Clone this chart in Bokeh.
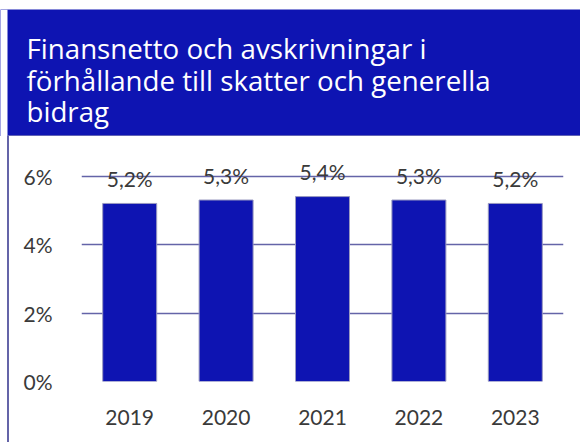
from bokeh.plotting import figure
from bokeh.models import (ColumnDataSource, FactorRange, FixedTicker, Label,
                          LabelSet, Spacer, BoxAnnotation, CustomJSTickFormatter)
from bokeh.core.properties import value
from bokeh.layouts import column
from bokeh.embed import file_html
from bokeh.resources import INLINE

# ---- data ----
years = ["2019", "2020", "2021", "2022", "2023"]
values = [5.2, 5.3, 5.4, 5.3, 5.2]
value_labels = ["5,2%", "5,3%", "5,4%", "5,3%", "5,2%"]
y_ticks = [0, 2, 4, 6]
title_lines = ["Finansnetto och avskrivningar i",
               "förhållande till skatter och generella",
               "bidrag"]

BLUE = "#0E14B2"
GRID = "#6464A8"
TEXT = "#3A3A3A"
FONT = "Lato"
FS = "21px"
W = 580

# ---- title band (page y 9..136) ----
TH = 127
top = figure(width=W, height=TH, x_range=(0, W), y_range=(136, 9),
             output_backend="svg", toolbar_location=None,
             min_border=0, outline_line_color=None,
             background_fill_color=BLUE, border_fill_color=BLUE)
top.axis.visible = False
top.grid.visible = False
top.add_layout(BoxAnnotation(left=0, right=7, fill_color="white",
                             fill_alpha=1, line_color=None))
top.add_layout(BoxAnnotation(left=7, right=W, top=134.8, bottom=136,
                             fill_color="#7E7EB6", fill_alpha=1,
                             line_color=None))
baselines = [47, 79, 110]
for line, b in zip(title_lines, baselines):
    top.add_layout(Label(x=26, y=b, text=line, text_color="white",
                         text_font="Open Sans",
                         text_font_size="27.7px", text_baseline="alphabetic"))

# ---- chart (canvas starts at page x 9) ----
CW = 571
CH = 442 - 9 - TH
src = ColumnDataSource(dict(year=years, value=values, label=value_labels))
p = figure(width=CW, height=CH, x_range=FactorRange(*years, range_padding=0),
           y_range=(0, 6.6), output_backend="svg", toolbar_location=None,
           min_border_left=72, min_border_right=17, min_border_top=19,
           min_border_bottom=CH - 245, outline_line_color=None,
           styles={"margin-left": "7px", "border-left": "2px solid " + GRID})
p.vbar(x="year", top="value", width=0.56, source=src, fill_color=BLUE,
       line_color="#9A9AC0", line_width=1)
p.add_layout(LabelSet(x="year", y="value", text="label", source=src,
                      y_offset=25, text_align="center", text_baseline="middle",
                      text_font=value(FONT), text_font_size=FS,
                      text_color=TEXT))

p.yaxis.ticker = FixedTicker(ticks=y_ticks)
p.yaxis.formatter = CustomJSTickFormatter(code="return tick + '%';")
p.yaxis.axis_line_color = None
p.yaxis.major_tick_line_color = None
p.yaxis.minor_tick_line_color = None
p.yaxis.major_label_text_font = FONT
p.yaxis.major_label_text_font_size = FS
p.yaxis.major_label_text_color = TEXT
p.yaxis.major_label_standoff = 23

p.xaxis.axis_line_color = None
p.xaxis.major_tick_line_color = None
p.xaxis.major_label_text_font = FONT
p.xaxis.major_label_text_font_size = FS
p.xaxis.major_label_text_color = TEXT
p.xaxis.major_label_standoff = 22

p.xgrid.visible = False
p.ygrid.grid_line_color = GRID
p.ygrid.grid_line_width = 1.5

layout = column(Spacer(width=W, height=9), column(top), p, spacing=0)
open("out.html", "w").write(file_html(layout, INLINE))
